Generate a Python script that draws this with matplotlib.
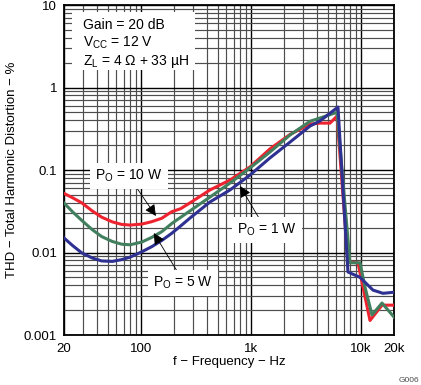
import numpy as np
import matplotlib.pyplot as plt
from matplotlib.patches import Rectangle

plt.rcParams['font.family'] = ['Liberation Sans', 'DejaVu Sans']
plt.rcParams['mathtext.fontset'] = 'custom'
plt.rcParams['mathtext.rm'] = 'Liberation Sans'
plt.rcParams['mathtext.it'] = 'Liberation Sans:italic'

# THD (%) vs frequency (Hz)
f_10w = [20, 24, 29, 36, 44, 55, 67, 80, 102, 125, 155, 175, 192, 230, 280, 425,
         646, 982, 1490, 2270, 3450, 4250, 5240, 6070, 7630, 9410, 10450, 12100,
         15560, 20000]
thd_10w = [0.052, 0.046, 0.040, 0.032, 0.0268, 0.0235, 0.0219, 0.0215, 0.0221,
           0.0236, 0.026, 0.029, 0.0313, 0.034, 0.040, 0.0573, 0.0756, 0.109,
           0.18, 0.27, 0.36, 0.37, 0.37, 0.45, 0.0077, 0.0075, 0.0038, 0.0015,
           0.0023, 0.0023]

f_5w = [20, 24, 29, 36, 44, 55, 67, 80, 102, 125, 155, 192, 280, 425, 646, 982,
        1490, 2270, 3450, 4250, 6070, 7960, 9820, 10900, 12620, 15560, 20000]
thd_5w = [0.0398, 0.031, 0.0245, 0.019, 0.0156, 0.0136, 0.0126, 0.0124, 0.0134,
          0.0152, 0.0179, 0.0226, 0.032, 0.047, 0.0695, 0.106, 0.165, 0.266,
          0.39, 0.427, 0.50, 0.0075, 0.0075, 0.0038, 0.00175, 0.00244, 0.00165]

f_1w = [20, 24, 29, 36, 44, 55, 67, 80, 102, 126, 155, 192, 232, 280, 425, 646,
        982, 1490, 2270, 3450, 4250, 6190, 7630, 9820, 12880, 15890, 20000]
thd_1w = [0.0150, 0.0121, 0.0099, 0.0086, 0.0079, 0.0078, 0.0082, 0.0088, 0.0102,
          0.0118, 0.0140, 0.0172, 0.0212, 0.0262, 0.041, 0.0573, 0.0869, 0.14,
          0.218, 0.341, 0.393, 0.58, 0.0058, 0.0050, 0.0035, 0.0032, 0.0033]

x_ticks = [20, 100, 1000, 10000, 20000]
x_labels = ['20', '100', '1k', '10k', '20k']
y_ticks = [0.001, 0.01, 0.1, 1, 10]
y_labels = ['0.001', '0.01', '0.1', '1', '10']

fig = plt.figure(figsize=(4.21, 3.85), dpi=100)
ax = fig.add_axes([64/421, 50/385, 330/421, 330/385])
ax.set_xscale('log')
ax.set_yscale('log')
ax.set_xlim(20, 20000)
ax.set_ylim(0.001, 10)

ax.set_xticks(x_ticks)
ax.set_xticklabels(x_labels)
ax.set_xticks([m * d for d in (10, 100, 1000) for m in range(2, 10) if 20 < m * d < 20000], minor=True)
ax.set_yticks(y_ticks)
ax.set_yticklabels(y_labels)
ax.set_yticks([m * d for d in (0.001, 0.01, 0.1, 1) for m in range(2, 10)], minor=True)
ax.xaxis.set_minor_formatter(plt.NullFormatter())
ax.yaxis.set_minor_formatter(plt.NullFormatter())
ax.tick_params(which='both', length=0, labelsize=9.5)
ax.tick_params(axis='x', pad=6)
ax.tick_params(axis='y', pad=5)

ax.set_axisbelow(True)
ax.grid(which='major', color='black', lw=1.0)
ax.grid(which='minor', color='0.3', lw=0.85)
for s in ax.spines.values():
    s.set_linewidth(1.3)

ax.plot(f_10w, thd_10w, color='#ee2330', lw=2.2, zorder=3)
ax.plot(f_5w, thd_5w, color='#427f5e', lw=2.2, zorder=4)
ax.plot(f_1w, thd_1w, color='#2e3192', lw=2.2, zorder=5)

# conditions box
ax.add_patch(Rectangle((0.024, 0.803), 0.373, 0.176, transform=ax.transAxes,
                       fc='white', ec='none', zorder=2))
for yy, s in [(0.939, 'Gain = 20 dB'), (0.885, 'V$_\\mathrm{CC}$ = 12 V'),
              (0.830, 'Z$_\\mathrm{L}$ = 4 \u03a9 + 33 \u00b5H')]:
    ax.text(0.058, yy, s, transform=ax.transAxes, fontsize=10, va='center', zorder=3)

arrow = dict(arrowstyle='-|>', color='black', lw=0.6, mutation_scale=17,
             shrinkA=0, shrinkB=0)
box = dict(fc='white', ec='none', boxstyle='square,pad=0.35')

ax.annotate('', xy=(137, 0.0277), xytext=(88, 0.0658), arrowprops=arrow, zorder=6)
ax.text(78, 0.0845, 'P$_\\mathrm{O}$ = 10 W', fontsize=10, ha='center', va='center',
        bbox=box, zorder=7)

ax.annotate('', xy=(131, 0.0172), xytext=(227, 0.0052), arrowprops=arrow, zorder=6)
ax.text(242, 0.00426, 'P$_\\mathrm{O}$ = 5 W', fontsize=10, ha='center', va='center',
        bbox=box, zorder=7)

ax.annotate('', xy=(796, 0.064), xytext=(1213, 0.0248), arrowprops=arrow, zorder=6)
ax.text(1404, 0.0187, 'P$_\\mathrm{O}$ = 1 W', fontsize=10, ha='center', va='center',
        bbox=box, zorder=7)

fig.text(229/421, 1 - 362/385, 'f \u2212 Frequency \u2212 Hz', fontsize=9.5,
         ha='center', va='center')
fig.text(12/421, 1 - 170/385, 'THD \u2212 Total Harmonic Distortion \u2212 %',
         fontsize=9.5, ha='center', va='center', rotation=90)
fig.text(419/421, 1 - 380/385, 'G006', fontsize=6, color='0.3', ha='right', va='center')

fig.savefig('out.png', dpi=100)
